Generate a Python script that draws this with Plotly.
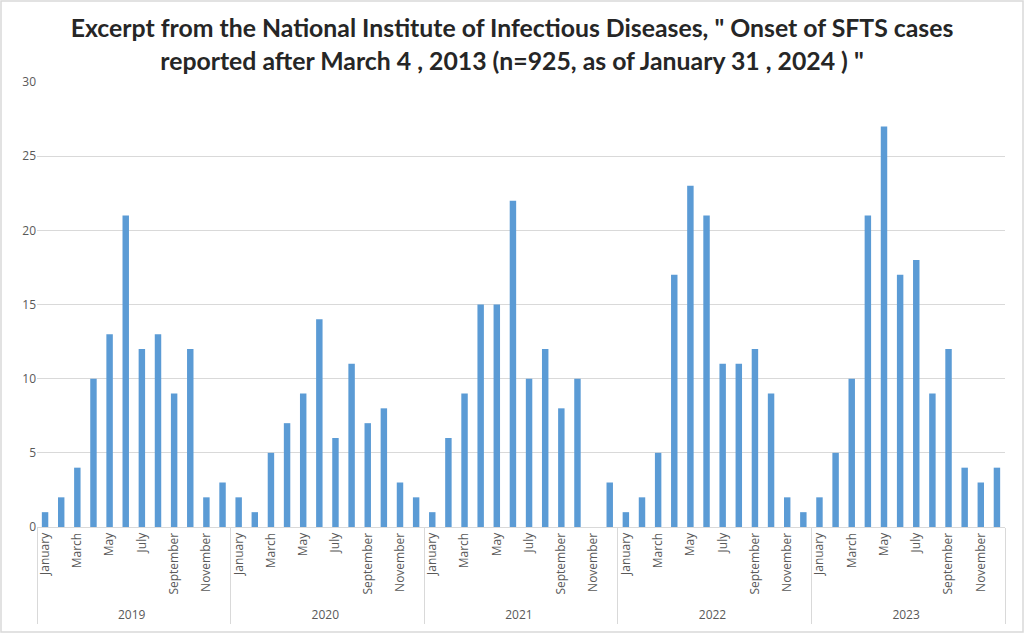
import plotly.graph_objects as go

years = ["2019", "2020", "2021", "2022", "2023"]
months = ["January", "February", "March", "April", "May", "June", "July",
          "August", "September", "October", "November", "December"]
shown_months = ["January", "March", "May", "July", "September", "November"]

cases_2019 = [1, 2, 4, 10, 13, 21, 12, 13, 9, 12, 2, 3]
cases_2020 = [2, 1, 5, 7, 9, 14, 6, 11, 7, 8, 3, 2]
cases_2021 = [1, 6, 9, 15, 15, 22, 10, 12, 8, 10, 0, 3]
cases_2022 = [1, 2, 5, 17, 23, 21, 11, 11, 12, 9, 2, 1]
cases_2023 = [2, 5, 10, 21, 27, 17, 18, 9, 12, 4, 3, 4]
all_cases = [cases_2019, cases_2020, cases_2021, cases_2022, cases_2023]

# month labels: only odd months displayed; even months get unique blank labels
labels = []
for i, m in enumerate(months):
    labels.append(m if m in shown_months else " " * (i + 1))

x_years, x_months, y_vals = [], [], []
for yr, vals in zip(years, all_cases):
    for lab, v in zip(labels, vals):
        x_years.append(yr)
        x_months.append(lab)
        y_vals.append(v)

fig = go.Figure(go.Bar(x=[x_years, x_months], y=y_vals, marker_color="#5B9BD5",
                       marker_line_width=0))

pw, ph = 968, 445
fig.update_layout(
    width=1024, height=633,
    margin=dict(l=37, r=19, t=82, b=106),
    paper_bgcolor="white", plot_bgcolor="white",
    bargap=0.6,
    showlegend=False,
    font=dict(family="Open Sans, sans-serif", color="#595959"),
    title=dict(
        text="Excerpt from the National Institute of Infectious Diseases, \" Onset of SFTS cases<br>reported after March 4 , 2013 (n=925, as of January 31 , 2024 ) \"",
        x=0.5, xanchor="center", y=0.941, yanchor="middle",
        font=dict(family="Lato, sans-serif", size=24.8, color="#262626", weight="bold"),
    ),
    shapes=[dict(type="rect", xref="paper", yref="paper",
                 x0=-36 / pw, x1=1 + 18 / pw, y0=-105 / ph, y1=1 + 81 / ph,
                 line=dict(color="#d9d9d9", width=1.5), layer="below")],
)
fig.update_yaxes(range=[0, 30], dtick=5, showgrid=True, gridcolor="#d9d9d9",
                 gridwidth=1, zeroline=False, tickfont=dict(size=12, color="#595959"),
                 ticks="", showline=False, automargin=False)
fig.update_xaxes(type="multicategory", tickangle=-90, showline=True,
                 linecolor="#d9d9d9", linewidth=1, showdividers=True,
                 dividercolor="#d9d9d9", dividerwidth=1, ticks="",
                 automargin=False,
                 tickfont=dict(size=12, color="#595959"))

fig.write_html("out.html", config={"displayModeBar": False},
               post_script="document.body.style.margin='0';")
